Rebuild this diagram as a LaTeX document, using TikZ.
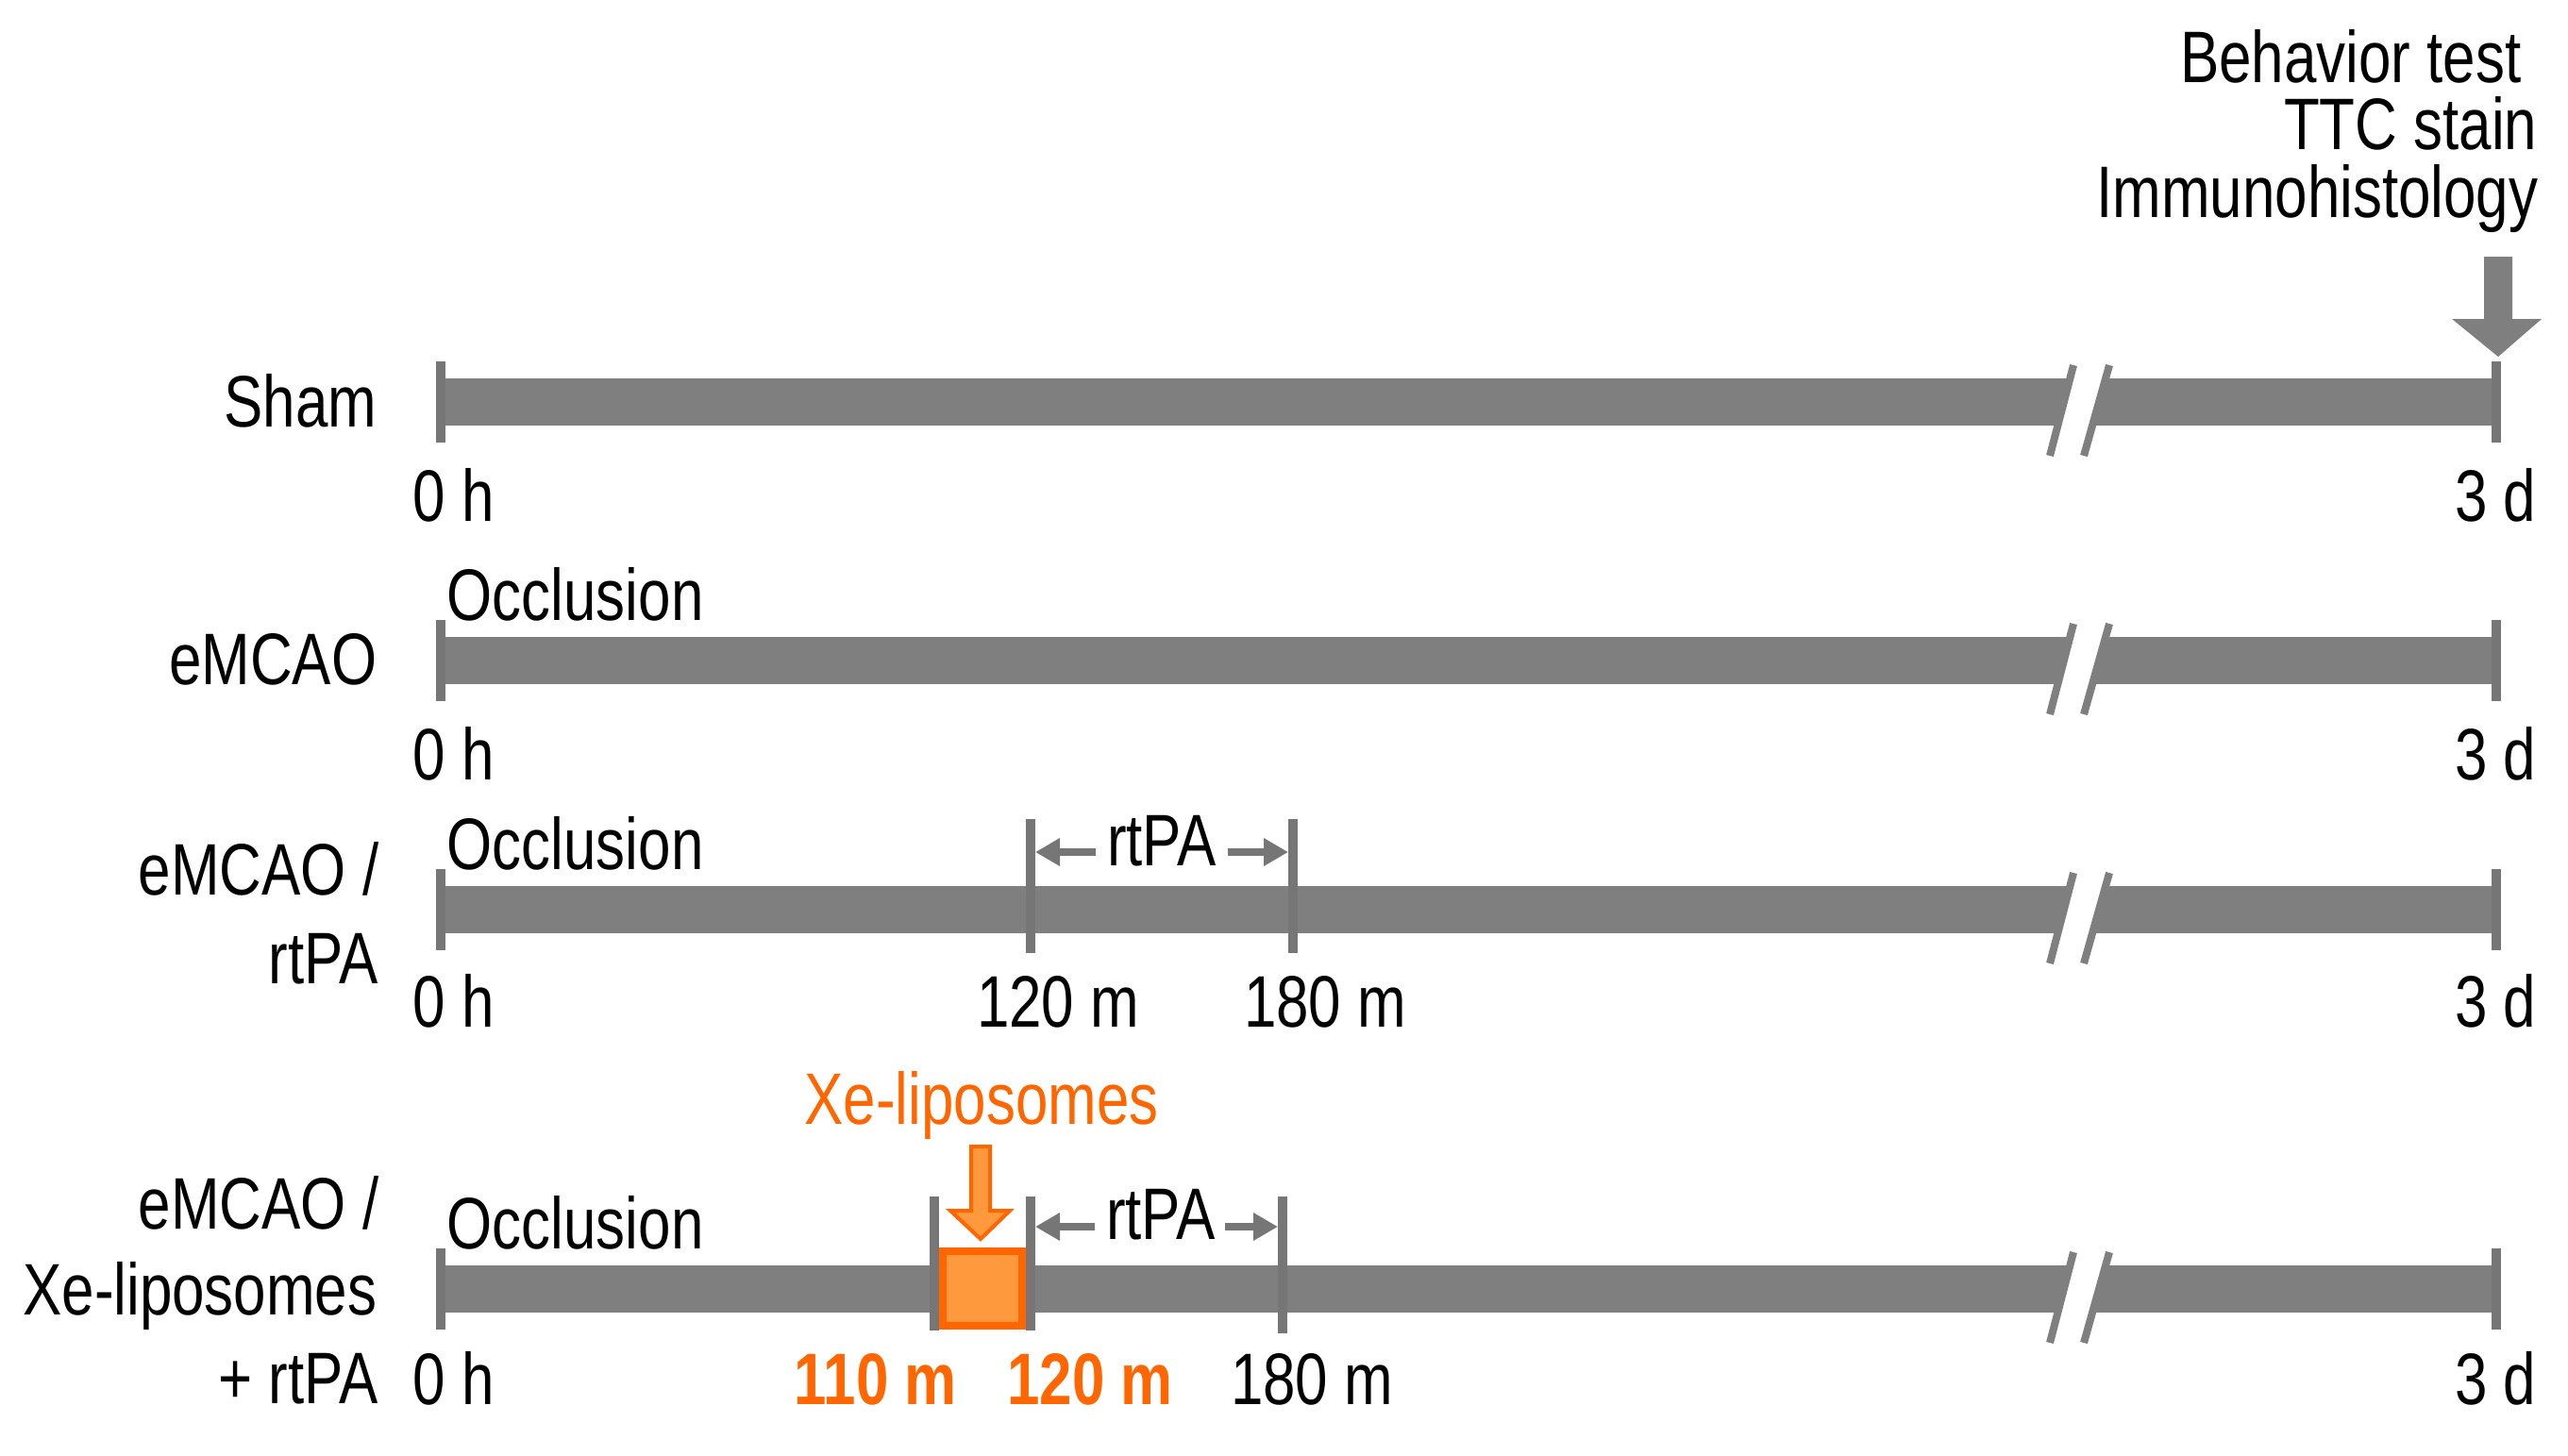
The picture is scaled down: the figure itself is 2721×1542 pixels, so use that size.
\documentclass[tikz,border=0pt]{standalone}
\usepackage{fontspec}
\setmainfont[FakeStretch=0.8]{Liberation Sans}
\usetikzlibrary{arrows.meta}
\definecolor{bargray}{RGB}{127,127,127}
\definecolor{tickgray}{RGB}{118,118,118}
\definecolor{xeorange}{RGB}{255,102,0}
\definecolor{xelight}{RGB}{255,153,61}
\begin{document}
\begin{tikzpicture}[x=0.01cm,y=-0.01cm,
  txt/.style={inner sep=0pt, font=\fontsize{22}{24}\selectfont},
  tickline/.style={draw=tickgray, line width=1mm},
  dimarrow/.style={draw=tickgray, line width=0.8mm, -{Triangle[length=2.6mm,width=2.8mm]}},
  slash/.style={draw=bargray, line width=0.8mm},
]
\useasboundingbox (0,0) rectangle (2721,1542);
% timeline bars
\foreach \c/\b/\i in {426/552/1,700/826/2,964/1088/3,1366/1488/4}{
  \fill[bargray] (467,{\c-25}) rectangle (2645,{\c+25});
  \fill[white] (2172,{\c+57}) -- (2197,{\c-39}) -- (2235,{\c-39}) -- (2208,{\c+57}) -- cycle;
  \draw[slash] (2172,{\c+57}) -- (2197,{\c-39});
  \draw[slash] (2208,{\c+57}) -- (2235,{\c-39});
  \draw[tickline] (467,{\c-43}) -- (467,{\c+43});
  \draw[tickline] (2645,{\c-43}) -- (2645,{\c+43});
  \node[txt, anchor=base west] (zero\i) at (437,\b) {0 h};
  \node[txt, anchor=base east] (three\i) at (2688,\b) {3 d};
}
% row labels
\node[txt, anchor=base east] (sham) at (400,452) {Sham};
\node[txt, anchor=base east] (emcao) at (400,725) {eMCAO};
\node[txt, anchor=base east] (emcaoA) at (402,948) {eMCAO /};
\node[txt, anchor=base east] (rtpaA) at (401,1042) {rtPA};
\node[txt, anchor=base east] (emcaoB) at (402,1302) {eMCAO /};
\node[txt, anchor=base east] (xeB) at (400,1393) {Xe-liposomes};
\node[txt, anchor=base east] (rtpaB) at (401,1487) {+ rtPA};
% occlusion labels
\node[txt, anchor=base west] (occ2) at (473,657) {Occlusion};
\node[txt, anchor=base west] (occ3) at (473,921) {Occlusion};
\node[txt, anchor=base west] (occ4) at (473,1323) {Occlusion};
% top right
\node[txt, anchor=base east] (beh) at (2672,87) {Behavior test};
\node[txt, anchor=base east] (ttc) at (2689,158) {TTC stain};
\node[txt, anchor=base east] (imm) at (2690,230) {Immunohistology};
\fill[bargray] (2632,272) -- (2662,272) -- (2662,338) -- (2693,338) -- (2647,378) -- (2598,338) -- (2632,338) -- cycle;
% row 3 rtPA
\draw[tickline] (1092,868) -- (1092,1010);
\draw[tickline] (1370,868) -- (1370,1010);
\node[txt, anchor=base] (rtpa3) at (1231,917) {rtPA};
\coordinate (r3l) at (1097,903);
\coordinate (r3r) at (1365,903);
\draw[dimarrow] (rtpa3.west |- r3l) ++(-11,0) -- (r3l);
\draw[dimarrow] (rtpa3.east |- r3r) ++(11,0) -- (r3r);
\node[txt, anchor=base] (m120a) at (1121,1088) {120 m};
\node[txt, anchor=base] (m180a) at (1404,1088) {180 m};
% row 4 rtPA + Xe
\fill[xelight, draw=xeorange, line width=0.8mm] (999,1326) rectangle (1083,1405);
\draw[tickline] (990,1268) -- (990,1410);
\draw[tickline] (1092,1268) -- (1092,1410);
\draw[tickline] (1359,1268) -- (1359,1413);
\node[txt, anchor=base] (rtpa4) at (1230,1313) {rtPA};
\coordinate (r4l) at (1097,1300);
\coordinate (r4r) at (1354,1300);
\draw[dimarrow] (rtpa4.west |- r4l) ++(-11,0) -- (r4l);
\draw[dimarrow] (rtpa4.east |- r4r) ++(9,0) -- (r4r);
\node[txt, anchor=base, text=xeorange] (xelab) at (1040,1191) {Xe-liposomes};
\filldraw[fill=xelight, draw=xeorange, line width=0.4mm] (1029,1215) -- (1049,1215) -- (1049,1283) -- (1070,1283) -- (1039,1313) -- (1007,1283) -- (1029,1283) -- cycle;
\node[txt, anchor=base, text=xeorange, font=\fontsize{22}{24}\selectfont\bfseries] (m110b) at (928,1488) {110 m};
\node[txt, anchor=base, text=xeorange, font=\fontsize{22}{24}\selectfont\bfseries] (m120b) at (1155,1488) {120 m};
\node[txt, anchor=base] (m180b) at (1390,1488) {180 m};
\end{tikzpicture}
\end{document}
